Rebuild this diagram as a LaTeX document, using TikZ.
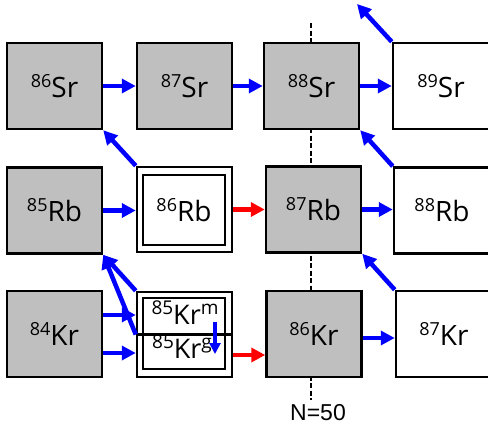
\documentclass[tikz,border=0pt]{standalone}
\usepackage{fontspec}
\setmainfont{Open Sans}
\newfontfamily\arialf{Liberation Sans}
\usetikzlibrary{arrows.meta,calc}
\definecolor{bgray}{RGB}{191,191,191}
\definecolor{ablue}{RGB}{0,0,255}
\definecolor{ared}{RGB}{255,0,0}
\newcommand\iso[2]{{\fontsize{18}{18}\selectfont\raisebox{10pt}{#1}}#2}
\newcommand\isos[3]{{\fontsize{19}{19}\selectfont\raisebox{9.5pt}{#1}}#2{\fontsize{19}{19}\selectfont\raisebox{9.5pt}{#3}}}
\begin{document}
\begin{tikzpicture}[x=1pt,y=-1pt,
  box/.style={draw=black,line width=2.5pt,minimum width=95pt,minimum height=86pt,inner sep=0pt,font=\fontsize{28}{28}\selectfont},
  gbox/.style={box,fill=bgray},
  wbox/.style={box,fill=white},
  ebox/.style={wbox,minimum width=120pt},
  elab/.style={inner sep=0pt,font=\fontsize{28}{28}\selectfont,xshift=-12pt},
  inbox/.style={draw=black,line width=2.5pt,inner sep=0pt,fill=white},
  lab/.style={inner sep=0pt,font=\fontsize{27}{27}\selectfont,anchor=base},
  arr/.style={line width=4.5pt,-{Triangle[length=14pt,width=14pt]}},
  barr/.style={arr,draw=ablue,fill=ablue},
  rarr/.style={arr,draw=ared,fill=ared},
  sarr/.style={draw=ablue,line width=3.5pt,-{Triangle[length=11pt,width=11pt]}},
  nline/.style={draw=black,line width=2pt,dash pattern=on 5pt off 2.5pt},
]
\useasboundingbox (0,0) rectangle (488,431);
\begin{scope}
\clip (0,0) rectangle (488,431);
\fill[white] (0,0) rectangle (488,431);
% N=50 line
\coordinate (dtop) at (311,23);
\coordinate (dbot) at (311,400);
\draw[nline] (dtop) -- (dbot);
\node[inner sep=0pt,font=\arialf\fontsize{23}{23}\selectfont] (n50) at (318,413) {N=50};
% Sr row
\node[gbox] (sr86) at (54.5,86) {\iso{86}{Sr}};
\node[gbox] (sr87) at (184.5,86) {\iso{87}{Sr}};
\node[gbox] (sr88) at (311.5,86) {\iso{88}{Sr}};
\node[ebox] (sr89) at (453,86) {};
\node[elab] (sr89t) at (sr89.center) {\iso{89}{Sr}};
% Rb row
\node[gbox] (rb85) at (54.5,210.5) {\iso{85}{Rb}};
\node[wbox,minimum height=85pt] (rb86) at (184.5,209.5) {};
\node[inbox,minimum width=82pt,minimum height=70pt,font=\fontsize{28}{28}\selectfont] (rb86i) at (184,210) {\iso{86}{Rb}};
\node[gbox] (rb87) at (313.5,209.5) {\iso{87}{Rb}};
\node[ebox] (rb88) at (454,210.5) {};
\node[elab] (rb88t) at (rb88.center) {\iso{88}{Rb}};
% Kr row
\node[gbox] (kr84) at (54.5,334) {\iso{84}{Kr}};
\node[wbox,minimum height=85pt] (kr85) at (184.5,334.5) {};
\node[inbox,minimum width=82pt,minimum height=71pt] (kr85i) at (184,333.5) {};
\draw[line width=2.5pt] (kr85.west) -- (kr85.east);
\node[lab] (krm) at (185,324) {\isos{85}{Kr}{m}};
\node[lab] (krg) at (182,358) {\isos{85}{Kr}{g}};
\node[gbox] (kr86) at (314,334) {\iso{86}{Kr}};
\node[ebox] (kr87) at (456,334) {};
\node[elab] (kr87t) at (kr87.center) {\iso{87}{Kr}};
% horizontal arrows
\draw[barr] (sr86) -- (sr87);
\draw[barr] (sr87) -- (sr88);
\draw[barr] (sr88.east) -- (sr89.west);
\draw[barr] (rb85.east) -- (rb86.west |- rb85.east);
\draw[rarr] (rb86.east) -- (rb87.west);
\draw[barr] (rb87.east) -- (rb88.west |- rb87.east);
\draw[barr] ($(kr84.east)+(0,-19)$) -- ($(kr85.west)+(0,-19.5)$);
\draw[barr] ($(kr84.east)+(0,19)$) -- ($(kr85.west)+(0,18.5)$);
\draw[rarr] ($(kr85.east)+(0,20.5)$) -- ($(kr86.west)+(0,21)$);
\draw[barr] ($(kr86.east)+(0,4)$) -- ($(kr87.west)+(0,4)$);
% diagonal arrows
\coordinate (sr89out) at (357,4);
\draw[barr] (rb86.north west) -- (sr86.south east);
\draw[barr] (sr89.north west) -- (sr89out);
\draw[barr] (rb88.north west) -- (sr88.south east);
\draw[barr] (kr87.north west) -- (rb87.south east);
\draw[barr] (kr85.north west) -- (rb85.south east);
\draw[barr] (kr85.west) -- (rb85.south east);
% isomeric transition
\coordinate (mtop) at (215,322);
\coordinate (mbot) at (215,354);
\draw[sarr] (mtop) -- (mbot);
\end{scope}
\end{tikzpicture}
\end{document}
